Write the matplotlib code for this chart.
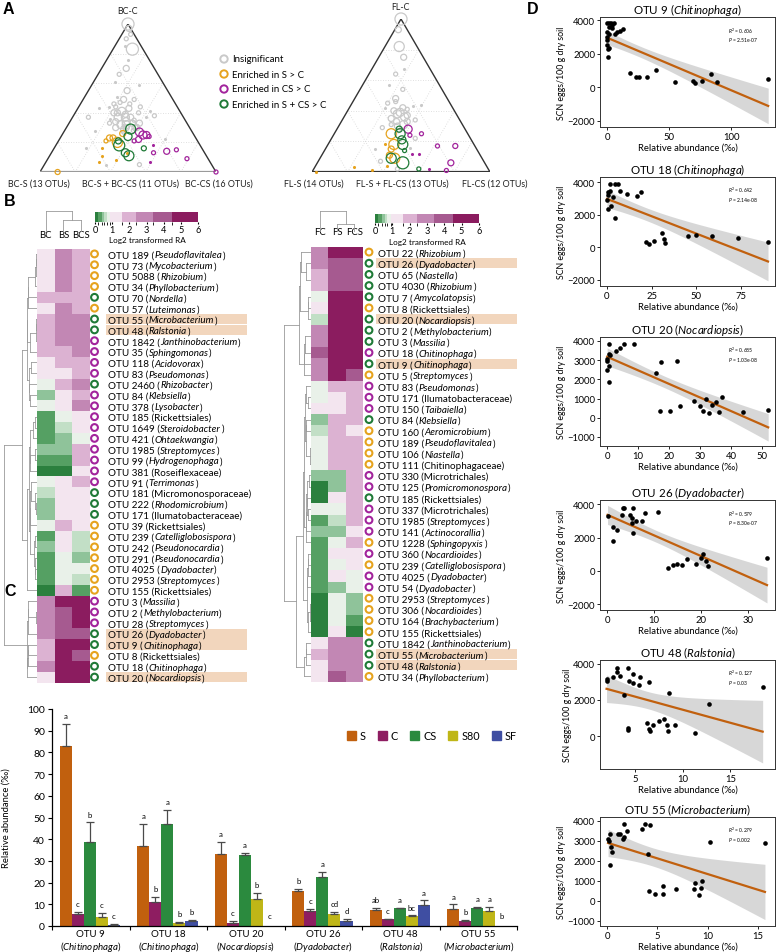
import numpy as np
import matplotlib
matplotlib.use('Agg')
import matplotlib.pyplot as plt
from matplotlib.colors import ListedColormap, BoundaryNorm
from matplotlib.patches import Rectangle, Patch
from matplotlib.cm import ScalarMappable

plt.rcParams['font.family'] = ['Lato', 'DejaVu Sans']
plt.rcParams['mathtext.fontset'] = 'custom'
plt.rcParams['mathtext.rm'] = 'Lato'
plt.rcParams['mathtext.it'] = 'Lato:italic'
plt.rcParams['mathtext.bf'] = 'Lato:bold'

# ------------------------------------------------------------------ data
# Panel A: (S, C, CS) composition (%) and mean abundance of each OTU
bc_insig = [(0,100,0,6),(1,97,2,3),(6,83,11,6),(2,93,5,2),(6,90,4,2),(9,85,6,1),
            (16,70,14,3),(23,55,22,3),(21,44,35,2),(28,49,23,3),(31,51,18,1),
            (33,41,26,4),(37,37,26,4),(33,37,30,4),(30,37,33,3),(38,32,30,4),
            (35,32,33,4),(31,33,36,3),(42,30,28,3),(38,29,33,3),(30,30,40,3),
            (42,36,22,1),(21,37,42,1),(16,38,46,2),(54,37,9,2),(55,28,17,1),
            (45,43,12,1),(18,22,60,1),(60,5,35,1),(41,5,54,2),(66,16,18,1),
            (12,76,12,1),(27,61,12,1),(14,59,27,1),(22,66,12,2),(22,49,29,2),
            (17,41,42,1),(39,44,17,1),(35,44,21,2),(28,43,29,3),(31,47,22,2),
            (36,40,24,3),(34,34,32,4),(40,34,26,3),(32,39,29,3),(36,30,34,3),
            (29,35,36,2),(39,27,34,2),(33,28,39,2),(35,46,19,2),(26,46,28,2),
            (44,33,23,2),(27,33,40,3),(31,30,39,3),(24,40,36,2),(38,40,22,3)]
bc_s = [(90,0,10,2.5),(49,23,28,3),(47,23,30,3),(46,20,34,5),(52,21,27,2),
        (57,16,27,1),(59,11,30,1),(53,8,39,1),(63,7,30,1),(44,13,43,1),(40,26,34,3)]
bc_cs = [(30,27,43,4),(29,25,46,4),(27,25,48,3.5),(33,22,45,3),(26,24,50,2),
         (36,21,43,2),(27,18,55,1),(29,13,58,2),(34,7,59,1),(21,14,65,3),
         (15,15,70,2),(12,9,79,2),(0,0,100,2)]
bc_both = [(34,29,37,5),(38,24,38,4),(46,18,36,5.5),(45,13,42,4),(44,11,45,5),
           (33,16,51,2.5),(45,21,34,3)]

fl_insig = [(0,100,0,6),(10,82,8,5),(5,93,2,3),(11,75,14,3),(21,64,15,2),
            (22,54,24,2),(29,48,23,3),(28,42,30,3),(33,38,29,4),(30,36,34,4),
            (38,35,27,3),(30,33,37,3),(37,30,33,3),(22,43,35,1),(38,42,20,1),
            (31,22,47,2),(46,29,25,2),(37,16,47,1),(17,44,39,1),(28,57,15,1),
            (15,67,18,1),(57,15,28,1),(58,7,35,2),(51,2,47,2),
            (34,40,26,3),(31,39,30,4),(36,33,31,3),(28,37,35,3),(33,31,36,4),
            (40,31,29,2),(26,41,33,2),(35,45,20,2),(30,46,24,2),(38,27,35,2),(25,34,41,2)]
fl_s = [(43,25,32,5),(45,18,37,5),(48,15,37,3),(49,9,42,5),(51,11,38,3),
        (98,0,2,1.5),(75,3,22,1),(66,1,33,1),(56,4,40,1),(50,18,32,1)]
fl_cs = [(32,28,40,4),(33,24,43,2),(26,25,49,2),(21,17,62,2),(11,17,72,2.5),
         (38,12,50,1),(34,12,54,1),(19,6,75,3),(33,2,65,1),(24,1,75,2)]
fl_both = [(38,25,37,5),(39,21,40,4),(40,18,42,5),(51,9,40,5),(46,6,48,6),
           (37,28,35,3),(41,14,45,2),(39,2,59,2)]

# Panel B: log2 transformed relative abundance
bc_otus = ['OTU 189','OTU 73','OTU 5088','OTU 34','OTU 70','OTU 57','OTU 55','OTU 48',
           'OTU 1842','OTU 35','OTU 118','OTU 83','OTU 2460','OTU 84','OTU 378','OTU 185',
           'OTU 1649','OTU 421','OTU 1985','OTU 99','OTU 381','OTU 91','OTU 181','OTU 222',
           'OTU 171','OTU 39','OTU 239','OTU 242','OTU 291','OTU 4025','OTU 2953','OTU 155',
           'OTU 3','OTU 2','OTU 28','OTU 26','OTU 9','OTU 8','OTU 18','OTU 20']
bc_taxa = ['Pseudoflavitalea','Mycobacterium','Rhizobium','Phyllobacterium','Nordella',
           'Luteimonas','Microbacterium','Ralstonia','Janthinobacterium','Sphingomonas',
           'Acidovorax','Pseudomonas','Rhizobacter','Klebsiella','Lysobacter','Rickettsiales',
           'Steroidobacter','Ohtaekwangia','Streptomyces','Hydrogenophaga','Roseiflexaceae',
           'Terrimonas','Micromonosporaceae','Rhodomicrobium','Ilumatobacteraceae',
           'Rickettsiales','Catelliglobosispora','Pseudonocardia','Pseudonocardia',
           'Dyadobacter','Streptomyces','Rickettsiales','Massilia','Methylobacterium',
           'Streptomyces','Dyadobacter','Chitinophaga','Rickettsiales','Chitinophaga',
           'Nocardiopsis']
bc_group = 'SSSSBSBBCCCCBCCCCCCCCCBBBSSSSSSSCCCBBSBB'
bc_cols = ['BC', 'BS', 'BCS']
bc_vals = [[1.2,2.9,2.0],[1.2,2.9,2.0],[1.2,2.9,2.0],[1.2,2.9,2.0],[2.0,2.0,2.0],
           [1.2,2.9,2.0],[2.0,2.9,2.9],[2.0,2.9,2.9],[2.0,2.9,2.9],[2.0,2.0,2.9],
           [1.2,2.0,2.0],[1.2,1.2,2.0],[0.8,2.0,2.9],[0.47,1.2,2.0],[0.8,1.2,2.9],
           [0.3,0.8,1.2],[0.3,0.62,1.2],[0.3,0.47,0.8],[0.47,0.47,2.0],[0.3,0.3,2.0],
           [0.1,0.1,1.2],[0.8,1.2,2.0],[0.62,1.2,1.2],[0.47,1.2,1.2],[0.47,1.2,1.2],
           [0.8,2.0,1.2],[0.3,1.2,0.62],[0.47,1.2,0.62],[0.3,0.8,0.47],[0.3,0.8,0.8],
           [0.3,0.8,0.62],[0.1,2.0,0.3],[2.9,5.2,5.2],[2.9,4.0,5.2],[2.9,4.0,5.2],
           [2.9,4.0,4.0],[2.0,5.2,5.2],[2.0,5.2,4.0],[2.9,5.2,5.2],[1.2,5.2,5.2]]

fl_otus = ['OTU 22','OTU 26','OTU 65','OTU 4030','OTU 7','OTU 8','OTU 20','OTU 2','OTU 3',
           'OTU 18','OTU 9','OTU 5','OTU 83','OTU 171','OTU 150','OTU 84','OTU 160','OTU 189',
           'OTU 106','OTU 111','OTU 330','OTU 125','OTU 185','OTU 337','OTU 1985','OTU 141',
           'OTU 1228','OTU 360','OTU 239','OTU 4025','OTU 54','OTU 2953','OTU 306','OTU 164',
           'OTU 155','OTU 1842','OTU 55','OTU 48','OTU 34']
fl_taxa = ['Rhizobium','Dyadobacter','Niastella','Rhizobium','Amycolatopsis','Rickettsiales',
           'Nocardiopsis','Methylobacterium','Massilia','Chitinophaga','Chitinophaga',
           'Streptomyces','Pseudomonas','Ilumatobacteraceae','Taibaiella','Klebsiella',
           'Aeromicrobium','Pseudoflavitalea','Niastella','Chitinophagaceae','Microtrichales',
           'Promicromonospora','Rickettsiales','Microtrichales','Streptomyces','Actinocorallia',
           'Sphingopyxis','Nocardioides','Catelliglobosispora','Dyadobacter','Dyadobacter',
           'Streptomyces','Nocardioides','Brachybacterium','Rickettsiales','Janthinobacterium',
           'Microbacterium','Ralstonia','Phyllobacterium']
fl_group = 'SBBBBSBBBCBSCCCBSSSSCCBCCCSCSCCSSSSBBBS'
fl_cols = ['FC', 'FS', 'FCS']
fl_vals = [[2.9,5.2,5.2],[2.9,4.0,4.0],[2.0,4.0,4.0],[2.0,4.0,4.0],[0.8,5.2,5.2],
           [1.2,5.2,5.2],[0.62,5.2,5.2],[2.9,5.2,5.2],[2.9,5.2,5.2],[4.0,5.2,5.2],
           [2.9,5.2,5.2],[2.9,5.2,4.0],[0.8,2.0,2.0],[0.8,1.2,2.0],[1.2,1.2,2.0],
           [0.47,2.0,2.0],[0.62,2.0,1.2],[0.8,2.0,2.0],[0.8,2.0,2.0],[0.8,2.0,2.0],
           [0.47,0.47,2.0],[0.1,0.47,2.0],[0.1,1.2,2.0],[0.8,0.8,2.0],[0.3,0.62,2.0],
           [0.47,0.47,1.2],[0.3,0.8,2.0],[0.3,1.2,1.2],[0.3,0.8,1.2],[0.3,1.2,0.8],
           [0.3,0.47,0.8],[0.1,0.8,0.47],[0.1,0.8,0.47],[0.1,0.8,0.3],[0.1,1.2,0.1],
           [1.2,2.9,2.9],[2.0,2.9,2.9],[1.2,2.9,2.9],[1.2,4.0,2.9]]
highlight = ['OTU 55','OTU 48','OTU 26','OTU 9','OTU 20']

# Panel C
c_otus = ['OTU 9','OTU 18','OTU 20','OTU 26','OTU 48','OTU 55']
c_genus = ['Chitinophaga','Chitinophaga','Nocardiopsis','Dyadobacter','Ralstonia','Microbacterium']
c_treat = ['S','C','CS','S80','SF']
c_mean = {'S':  [82.8, 36.9, 33.0, 16.2, 7.2, 8.0],
          'C':  [5.7, 11.1, 1.2, 6.9, 3.0, 2.5],
          'CS': [38.5, 47.2, 32.6, 22.6, 8.1, 8.3],
          'S80':[4.2, 1.5, 12.3, 5.5, 4.6, 6.8],
          'SF': [0.6, 2.3, 0.0, 2.3, 9.7, 0.0]}
c_err = {'S':  [10.3, 10.3, 5.8, 1.0, 1.3, 2.0],
         'C':  [0.9, 2.4, 1.1, 1.1, 0.4, 0.3],
         'CS': [9.2, 6.2, 1.2, 2.3, 0.4, 0.5],
         'S80':[1.9, 0.3, 3.1, 1.0, 0.3, 2.0],
         'SF': [0.5, 0.5, 0.0, 0.8, 2.1, 0.0]}
c_letters = {'S':  ['a','a','a','b','ab','a'],
             'C':  ['c','b','c','c','c','b'],
             'CS': ['b','a','a','a','a','a'],
             'S80':['c','b','b','cd','bc','a'],
             'SF': ['c','b','c','d','a','b']}

# Panel D: relative abundance (permille) vs SCN eggs
d_titles = [('OTU 9','Chitinophaga'),('OTU 18','Chitinophaga'),('OTU 20','Nocardiopsis'),
            ('OTU 26','Dyadobacter'),('OTU 48','Ralstonia'),('OTU 55','Microbacterium')]
d9_x = [0,1.6,3.5,5.7,1.6,4.3,0,1.6,0,0,0,1.6,0.8,0.8,6.2,8.1,10.3,13,3.8,
        18.4,23,26,32,39.5,55,69,71,77,84,89,130]
d9_y = [3820,3820,3820,3820,3620,3560,3320,3160,3020,2820,2520,2360,2280,1820,3160,3320,3380,3460,3720,
        880,620,620,620,1020,320,360,280,390,770,285,485]
d18_x = [0.4,0.7,0,0.4,2,3.5,4.5,7.3,11,16.6,18.8,1.7,4.5,6.3,1.7,21.6,23.6,26.3,31,31.8,32.6,
         45,50,58.5,73.4,90]
d18_y = [3380,3180,2870,2340,2540,3060,1820,3460,3260,3120,3420,3880,3880,3880,3470,330,220,390,860,490,290,
         700,750,690,600,330]
d20_x = [0.5,0,0,0.5,0.8,0,0.5,0.5,2.8,4.2,5.5,8.7,15.7,17.4,22.4,17.2,20.4,23.5,28,30,31,32,33,34,35,36,37,44,52]
d20_y = [3850,3080,2940,3340,3250,2480,2700,1850,3470,3620,3850,3850,2340,2900,2960,360,330,620,850,600,350,1000,250,650,800,300,1100,300,380]
d26_x = [0.1,1.35,1.2,2.2,3.3,3.6,3.1,5.6,4.9,5.2,5.4,5.6,6.2,7.4,8.1,10.9,13,14.1,14.8,16,17,19,20,20.5,21,21.5,34]
d26_y = [3300,2660,1800,2440,3760,3760,3340,3800,3340,3200,2900,2300,3000,3000,3500,3560,200,340,400,350,700,400,800,1000,600,300,800]
d48_x = [1.95,2.0,2.6,3.1,3.1,3.4,4.2,4.3,4.7,4.7,5.4,5.5,6.4,3.8,4.2,4.2,6.2,6.4,6.5,6.8,7.5,8.0,8.3,8.4,8.5,9.2,11.3,12.7,18.4]
d48_y = [3190,3060,3300,3800,3560,3330,3800,3060,3430,2930,2810,3300,3000,2280,460,330,700,370,280,590,830,960,590,280,2410,610,190,1760,2700]
d55_x = [0.1,0.23,0.33,0.43,0.5,0.26,1.1,1.3,1.55,1.65,1.68,2.0,3.5,3.8,4.3,4.1,4.2,4.8,5.6,5.6,6.9,8.6,8.7,9.1,9.3,9.4,10.2,15.7]
d55_y = [3100,3010,3340,2680,2470,1820,3340,3340,3100,3210,3840,3510,3620,3840,3790,2330,480,350,745,330,610,610,880,280,645,980,2930,2900]
d_r2 = ['0.606','0.642','0.685','0.579','0.127','0.279']
d_p = ['2.51e-07','2.14e-08','1.03e-08','8.30e-07','0.03','0.002']

# ------------------------------------------------------------------ style
W, H = 777, 953
fig = plt.figure(figsize=(W/100, H/100), dpi=100)
renderer = fig.canvas.get_renderer()

def px_axes(l, t, r, b, **kw):
    return fig.add_axes([l/W, 1-b/H, (r-l)/W, (b-t)/H], **kw)

C_S, C_CS, C_B, C_G = '#e6a31e', '#a2249c', '#1f7a37', '#c9c9c9'
grp_col = {'S': C_S, 'C': C_CS, 'B': C_B}

# ------------------------------------------------------------------ Panel A
def ternary(ax, groups, base_col):
    ax.set_xlim(0, 1); ax.set_ylim(0, 1); ax.axis('off')
    for k in [0.2, 0.4, 0.6, 0.8]:
        kw = dict(color='#d6d6d6', lw=0.6, ls=(0, (1, 2)), zorder=0)
        ax.plot([k/2, 1-k/2], [k, k], **kw)
        ax.plot([k, k+(1-k)/2], [0, 1-k], **kw)
        ax.plot([1-k, (1-k)/2], [0, 1-k], **kw)
    ax.plot([0, 0.5, 1], [0, 1, 0], color='#333333', lw=1.0, zorder=1)
    ax.plot([0, 1], [0, 0], color=base_col, lw=1.6, zorder=1)
    for pts, col in groups:
        a = np.array(pts, float)
        tot = a[:, :3].sum(1)
        c, cs = a[:, 1]/tot, a[:, 2]/tot
        x, y, ab = cs + c/2, c, a[:, 3]
        small = ab <= 1.5
        ax.scatter(x[~small], y[~small], s=(1.45*ab[~small])**2, facecolors='none',
                   edgecolors=col, lw=0.9, clip_on=False, zorder=3)
        ax.scatter(x[small], y[small], s=5, color=col, lw=0, clip_on=False, zorder=3)

axA1 = px_axes(40, 25, 216, 173)
ternary(axA1, [(bc_insig, C_G), (bc_s, C_S), (bc_cs, C_CS), (bc_both, C_B)], '#9a9a9a')
axA2 = px_axes(312, 20, 490, 173)
ternary(axA2, [(fl_insig, C_G), (fl_s, C_S), (fl_cs, C_CS), (fl_both, C_B)], '#333333')

# ------------------------------------------------------------------ Panel B
bounds = [0, 0.2, 0.4, 0.55, 0.7, 0.9, 1.6, 2.4, 3.4, 4.5, 6]
cols = ['#2b803e', '#55a063', '#8fc39a', '#c2dfc6', '#e9f1e9', '#f3e5ef',
        '#dcb2d2', '#c287b4', '#a65a90', '#8b1c5f']
cmap = ListedColormap(cols)
norm = BoundaryNorm(bounds, cmap.N)

def adj_dendro(X):
    X = np.asarray(X, float)
    cl = [dict(m=X[i], n=1, pos=i+0.5, h=0.0) for i in range(len(X))]
    segs = []
    while len(cl) > 1:
        d = [np.linalg.norm(cl[k]['m']-cl[k+1]['m']) for k in range(len(cl)-1)]
        k = int(np.argmin(d))
        a, b = cl[k], cl[k+1]
        h = max(d[k], a['h'], b['h']) + 0.08
        segs += [((a['h'], h), (a['pos'], a['pos'])), ((b['h'], h), (b['pos'], b['pos'])),
                 ((h, h), (a['pos'], b['pos']))]
        n = a['n'] + b['n']
        cl[k:k+2] = [dict(m=(a['m']*a['n']+b['m']*b['n'])/n, n=n, pos=(a['pos']+b['pos'])/2, h=h)]
    return segs, cl[0]['h']

def rich_text(ax, x, y, parts, fs):
    inv = ax.transData.inverted()
    cur = x
    for txt, it in parts:
        t = ax.text(cur, y, txt, ha='left', va='baseline', fontsize=fs,
                    fontstyle='italic' if it else 'normal', zorder=3)
        bb = t.get_window_extent(renderer)
        cur = inv.transform((bb.x1 + 0.4, bb.y0))[0]

def heat_block(vals, otus, taxa, groups, colnames, box, dendro_l, coldend, lab_r, circ_x, text_x, hl):
    l, t, r, b = box
    n = len(vals)
    M = np.array(vals)
    ax = px_axes(l, t, r, b)
    ax.pcolormesh(np.arange(4), np.arange(n+1), M, cmap=cmap, norm=norm)
    ax.set_xlim(0, 3); ax.set_ylim(n, 0); ax.axis('off')
    axd = px_axes(dendro_l, t, l, b)
    segs, hm = adj_dendro(M)
    for xs, ys in segs:
        axd.plot(xs, ys, color='#9a9a9a', lw=0.6)
    axd.set_xlim(hm*1.03, 0); axd.set_ylim(n, 0); axd.axis('off')
    axc = px_axes(l, coldend[0], r, coldend[1])
    segs, hm = adj_dendro(M.T)
    for xs, ys in segs:
        axc.plot(ys, xs, color='#9a9a9a', lw=0.6)
    axc.set_xlim(0, 3); axc.set_ylim(0, hm*1.02); axc.axis('off')
    for j, cn in enumerate(colnames):
        ax.text(j+0.5, -0.9, cn, ha='center', va='bottom', fontsize=6.8)
    axl = px_axes(r, t, lab_r, b)
    axl.set_xlim(r, lab_r); axl.set_ylim(n, 0); axl.axis('off')
    for i, (o, tx, g) in enumerate(zip(otus, taxa, groups)):
        y = i + 0.5
        if o in hl:
            axl.add_patch(Rectangle((hl[o][0], i+0.03), hl[o][1]-hl[o][0], 0.94,
                                    color='#f2d6bd', lw=0, zorder=0))
        axl.scatter([circ_x], [y], s=24, facecolors='none', edgecolors=grp_col[g],
                    lw=1.5, clip_on=False, zorder=2)
        if tx.endswith(('ales', 'aceae')):
            parts = [(f'{o} ({tx})', False)]
        else:
            parts = [(f'{o} (', False), (tx, True), (')', False)]
        rich_text(axl, text_x, y + 0.31, parts, 7.1)

hlL = {o: (106, 247) for o in highlight}
hlR = {o: (376, 517) for o in highlight}
heat_block(bc_vals, bc_otus, bc_taxa, bc_group, bc_cols, (37, 249.5, 90, 683.5), 3,
           (212, 233), 300, 94.5, 108, hlL)
heat_block(fl_vals, fl_otus, fl_taxa, fl_group, fl_cols, (311, 247.5, 363, 683), 283,
           (212, 233), 560, 369, 378, hlR)

for (l, t, r, b) in [(95, 213, 198, 223), (375, 215, 479, 224)]:
    cax = px_axes(l, t, r, b)
    cb = fig.colorbar(ScalarMappable(norm=norm, cmap=cmap), cax=cax, orientation='horizontal',
                      spacing='proportional', ticks=range(7))
    cb.outline.set_visible(False)
    cax.tick_params(labelsize=6.6, length=1.5, pad=0.8)

# ------------------------------------------------------------------ Panel C
axC = px_axes(52, 710, 517, 927)
bar_cols = {'S': '#c1600e', 'C': '#8e1d61', 'CS': '#2b8a3e', 'S80': '#bfb617', 'SF': '#3f4ea2'}
gx = np.arange(len(c_otus))
for k, tr in enumerate(c_treat):
    xs = gx + 0.18 + 0.155*k
    m = np.array(c_mean[tr]); e = np.array(c_err[tr])
    axC.bar(xs, m, width=0.155, color=bar_cols[tr], label=tr, zorder=2)
    has = m > 0
    axC.errorbar(xs[has], m[has], yerr=[np.zeros(has.sum()), e[has]], fmt='none',
                 ecolor='#4a4a4a', elinewidth=0.9, capsize=2.6, capthick=0.9, zorder=3)
    for xi, mi, ei, lt in zip(xs, m, e, c_letters[tr]):
        axC.text(xi, (mi + ei + 2.2) if mi > 0 else 3.2, lt, ha='center', va='bottom', fontsize=5.6)
axC.set_xlim(0, 6); axC.set_ylim(0, 100)
axC.set_yticks(range(0, 101, 10))
axC.set_xticks(range(7))
axC.set_xticklabels([])
axC.set_xticks(gx + 0.5, minor=True)
axC.set_xticklabels([f'{o}\n($\\mathit{{{g}}}$)' for o, g in zip(c_otus, c_genus)], minor=True,
                    fontsize=7, linespacing=1.15)
axC.tick_params(axis='x', which='minor', length=0, pad=2)
axC.tick_params(axis='x', which='major', length=3, direction='out')
axC.tick_params(axis='y', labelsize=7.5, length=3, pad=2)
for sp in ['top', 'right']:
    axC.spines[sp].set_visible(False)
for sp in ['left', 'bottom']:
    axC.spines[sp].set_linewidth(0.9)
axC.set_ylabel('Relative abundance (‰)', fontsize=6.8, labelpad=12)
handles = [Patch(color=bar_cols[t]) for t in c_treat]
fig.legend(handles, c_treat, ncol=5, loc='center', bbox_to_anchor=(432/W, 1-737/H), frameon=False,
           fontsize=7.8, handlelength=0.85, handleheight=0.85, handletextpad=0.35, columnspacing=1.1)

# ------------------------------------------------------------------ Panel D
d_data = [(d9_x, d9_y), (d18_x, d18_y), (d20_x, d20_y), (d26_x, d26_y), (d48_x, d48_y), (d55_x, d55_y)]
d_box = [(18, 128), (178, 287), (338, 447), (501, 611), (661, 770), (818, 927)]
d_xlim = [(-5.7, 135.5), (-3.9, 93.9), (-2.3, 54.2), (-1.5, 35.7), (1.26, 19.7), (-0.7, 16.7)]
d_ylim = [(-2380, 4200), (-2370, 4310), (-1470, 4200), (-2350, 4250), (-1830, 4220), (-1250, 4200)]
d_xt = [[0, 50, 100], [0, 25, 50, 75], [0, 10, 20, 30, 40, 50], [0, 10, 20, 30], [5, 10, 15], [0, 5, 10, 15]]
d_yt = [[-2000, 0, 2000, 4000], [-2000, 0, 2000, 4000], list(range(-1000, 4001, 1000)),
        [-2000, 0, 2000, 4000], [0, 2000, 4000], list(range(-1000, 4001, 1000))]

def lm_band(x, y, xs):
    n = len(x); xm = x.mean(); sxx = np.sum((x-xm)**2)
    b1 = np.sum((x-xm)*(y-y.mean()))/sxx
    b0 = y.mean() - b1*xm
    s = np.sqrt(np.sum((y-(b0+b1*x))**2)/(n-2))
    se = s*np.sqrt(1/n + (xs-xm)**2/sxx)
    yh = b0 + b1*xs
    return yh, yh-2.04*se, yh+2.04*se

for i, ((x, y), (t, b)) in enumerate(zip(d_data, d_box)):
    ax = px_axes(600, t, 775, b)
    x = np.array(x, float); y = np.array(y, float)
    xs = np.linspace(x.min(), x.max(), 120)
    yh, lo, hi = lm_band(x, y, xs)
    ax.fill_between(xs, lo, hi, color='#bdbdbd', alpha=0.6, lw=0, zorder=1)
    ax.plot(xs, yh, color='#c1600e', lw=1.6, zorder=2)
    ax.scatter(x, y, s=11, color='black', lw=0, zorder=3)
    ax.set_xlim(*d_xlim[i]); ax.set_ylim(*d_ylim[i])
    ax.set_xticks(d_xt[i]); ax.set_yticks(d_yt[i])
    ax.tick_params(labelsize=6.8, length=2, pad=1.5, width=0.6)
    for sp in ax.spines.values():
        sp.set_linewidth(0.7); sp.set_color('#333333')
    o, g = d_titles[i]
    ax.set_title(f'{o} ($\\mathit{{{g}}}$)', fontsize=8.3, pad=3)
    ax.set_xlabel('Relative abundance (‰)', fontsize=6.8, labelpad=1)
    ax.set_ylabel('SCN eggs/100 g dry soil', fontsize=6.3, labelpad=1)
    ax.text(0.73, 0.86, f'$R^2$ = {d_r2[i]}', transform=ax.transAxes, fontsize=3.6)
    ax.text(0.73, 0.78, f'$P$ = {d_p[i]}', transform=ax.transAxes, fontsize=3.6)

# ------------------------------------------------------------------ overlay texts
ov = px_axes(0, 0, W, H)
ov.set_xlim(0, W); ov.set_ylim(H, 0); ov.axis('off'); ov.patch.set_alpha(0)
for lab, (x, y) in zip('ABCD', [(3, 10), (4, 201), (4, 592), (527, 10)]):
    ov.text(x, y, lab, fontsize=11.5, fontweight='bold', va='center', ha='left',
            family=['Liberation Sans', 'DejaVu Sans'])
tk = dict(fontsize=6.4, ha='center', va='center', color='#222222')
ov.text(128, 11, 'BC-C', **tk)
ov.text(39, 184, 'BC-S (13 OTUs)', **tk)
ov.text(130, 184, 'BC-S + BC-CS (11 OTUs)', **tk)
ov.text(219, 184, 'BC-CS (16 OTUs)', **tk)
ov.text(400, 8, 'FL-C', **tk)
ov.text(314, 184, 'FL-S (14 OTUs)', **tk)
ov.text(402, 184, 'FL-S + FL-CS (13 OTUs)', **tk)
ov.text(495, 184, 'FL-CS (12 OTUs)', **tk)
leg_items = [('Insignificant', C_G), ('Enriched in S > C', C_S), ('Enriched in CS > C', C_CS),
             ('Enriched in S + CS > C', C_B)]
for k, (txt, col) in enumerate(leg_items):
    yy = 60 + 15*k
    ov.scatter([224], [yy], s=28, facecolors='none', edgecolors=col, lw=1.4)
    ov.text(232, yy, txt, fontsize=6.9, va='center', ha='left')
ov.text(147, 241, 'Log2 transformed RA', fontsize=5.9, ha='center', va='center')
ov.text(427, 243, 'Log2 transformed RA', fontsize=5.9, ha='center', va='center')

fig.savefig('out.png', dpi=100)
